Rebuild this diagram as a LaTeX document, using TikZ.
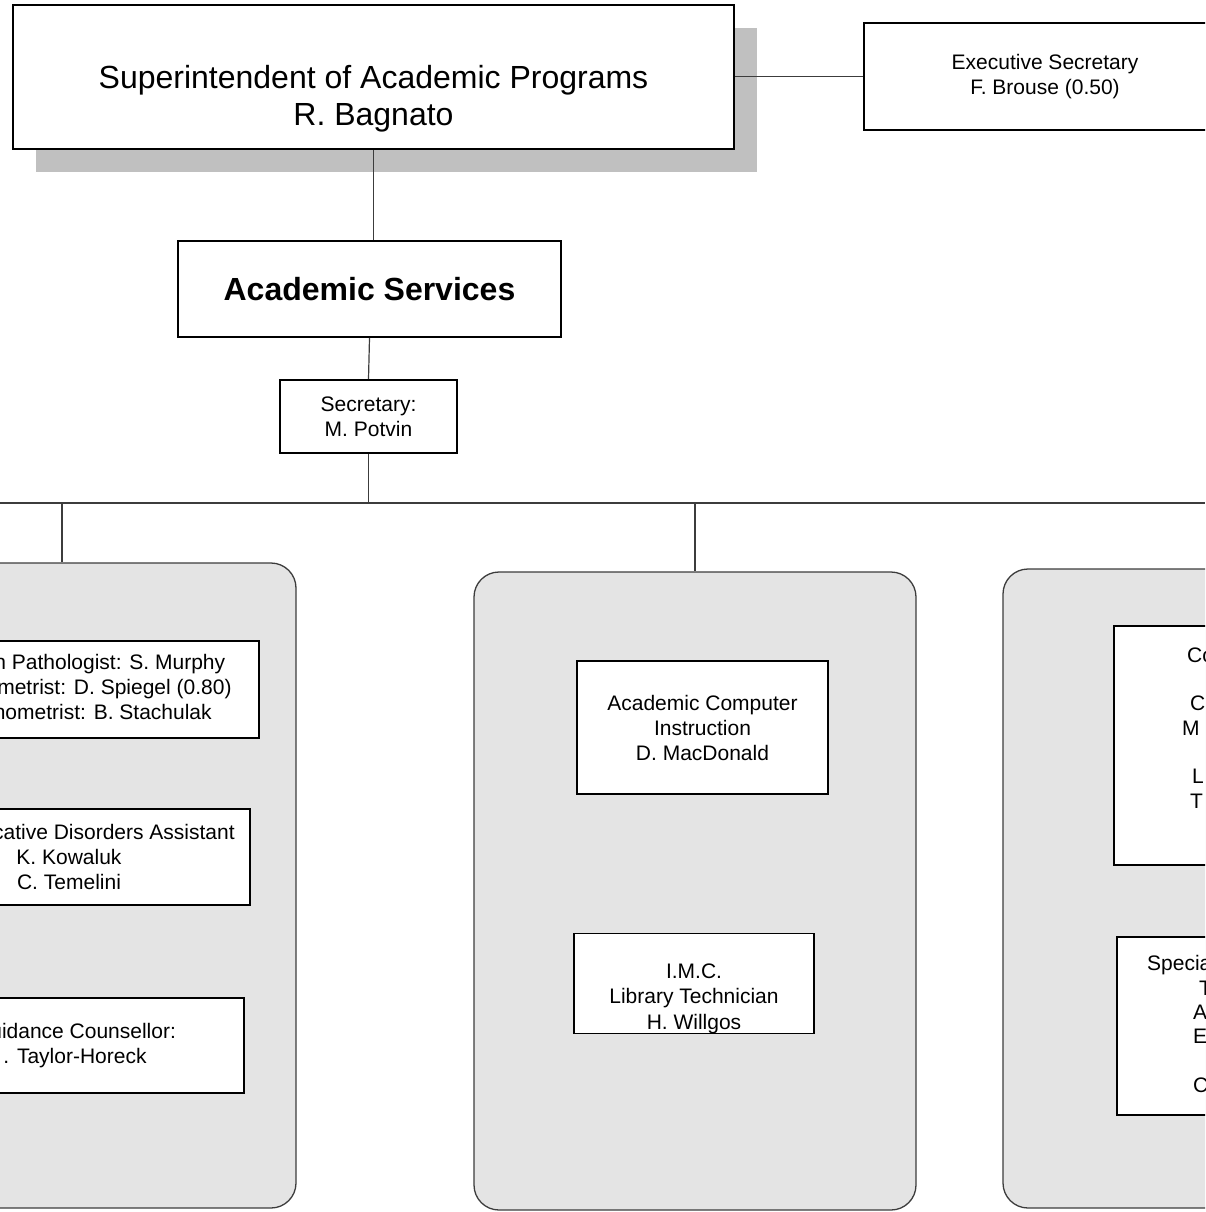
\documentclass[tikz,border=0pt]{standalone}
\usepackage{fontspec}
\setmainfont{Liberation Sans}
\usetikzlibrary{shadows}

\definecolor{panelgray}{HTML}{E4E4E4}
\definecolor{shadowgray}{HTML}{C0C0C0}
\definecolor{linegray}{HTML}{3C3C3C}

\begin{document}
\begin{tikzpicture}[
		x=1pt,
		y=-1pt,
		every node/.style={
			shape=rectangle,
			inner sep=0pt,
			align=center,
			font=\fontsize{21}{25}\selectfont,
		},
		unit/.style={
			draw,
			line width=1.8pt,
			fill=white,
		},
		panel/.style={
			draw=linegray,
			line width=1.3pt,
			fill=panelgray,
			rounded corners=25pt,
		},
		link/.style={
			draw=linegray,
			line width=1.2pt,
		},
		head/.style={font=\fontsize{32}{37}\selectfont},
		cut/.style={align=left, anchor=north west, font=\fontsize{21}{24.3}\selectfont},
	]
		\useasboundingbox (0,0) rectangle (1205,1212);
		\clip (0,0) rectangle (1205,1212);

		% top of the chart
		\node[unit, head, minimum width=721pt, minimum height=144pt,
			drop shadow={shadow xshift=23pt, shadow yshift=-23pt, fill=shadowgray, opacity=1}]
			(super) at (373.5,77) {\rule{0pt}{30pt}\\Superintendent of Academic Programs\\R. Bagnato};
		\node[unit, minimum width=362pt, minimum height=107pt] (exec) at (1045,76.5)
			{Executive Secretary\\F. Brouse (0.50)};
		\node[unit, head, font=\bfseries\fontsize{32}{37}\selectfont,
			minimum width=383pt, minimum height=96pt] (acad) at (369.5,289) {Academic Services};
		\node[unit, minimum width=177pt, minimum height=73pt] (sec) at (368.5,416.5)
			{Secretary:\\M. Potvin};

		\coordinate (barL) at (0,503);
		\coordinate (barR) at (1205,503);

		% the three groups
		\node[panel, minimum width=468pt, minimum height=645pt] (lpanel) at (62,885.5) {};
		\node[panel, minimum width=442pt, minimum height=638pt] (cpanel) at (695,891) {};
		\node[panel, minimum width=442pt, minimum height=639pt] (rpanel) at (1224,888.5) {};

		\node[unit, minimum width=358pt, minimum height=97pt] (speech) at (80,689.5)
			{Speech Pathologist: S. Murphy\\Psychometrist: D. Spiegel (0.80)\\Psychometrist: B. Stachulak};
		\node[unit, minimum width=362pt, minimum height=96pt] (commdis) at (69,857)
			{Communicative Disorders Assistant\\K. Kowaluk\\C. Temelini};
		\node[unit, minimum width=338pt, minimum height=95pt] (guidance) at (75,1045.5)
			{Guidance Counsellor:\\. Taylor-Horeck};

		\node[unit, minimum width=251pt, minimum height=133pt] (compinst) at (702.5,727.5)
			{Academic Computer\\Instruction\\D. MacDonald};
		\node[unit, minimum width=240pt, minimum height=91pt,
			font=\fontsize{21}{25.5}\selectfont] (imc) at (694,983.5)
			{\rule{0pt}{19pt}\\I.M.C.\\Library Technician\\H. Willgos};

		\node[unit, minimum width=220pt, minimum height=239pt] (rbox1) at (1224,745.5) {};
		\node[cut] (rtext1) at (1182,647.5)
			{\hspace*{5pt}Co\\~\\\hspace*{8pt}C\\M\\~\\\hspace*{10pt}L\\\hspace*{8pt}T};
		\node[unit, minimum width=214pt, minimum height=178pt] (rbox2) at (1224,1026) {};
		\node[cut] (rtext2) at (1147,955.5)
			{Specia\\\hspace*{52pt}T\\\hspace*{46pt}A\\\hspace*{46pt}E\\~\\\hspace*{46pt}C};

		% connectors
		\draw[link] (exec.west -| super.east) -- (exec.west);
		\draw[link] (super.south) -- (super.south |- acad.north);
		\draw[link] (acad.south) -- (sec.north);
		\draw[link] (sec.south) -- (sec.south |- barL);
		\draw[link] (barL) -- (barR);
		\draw[link] (lpanel.north |- barL) -- (lpanel.north);
		\draw[link] (cpanel.north |- barL) -- (cpanel.north);
	\end{tikzpicture}
\end{document}
